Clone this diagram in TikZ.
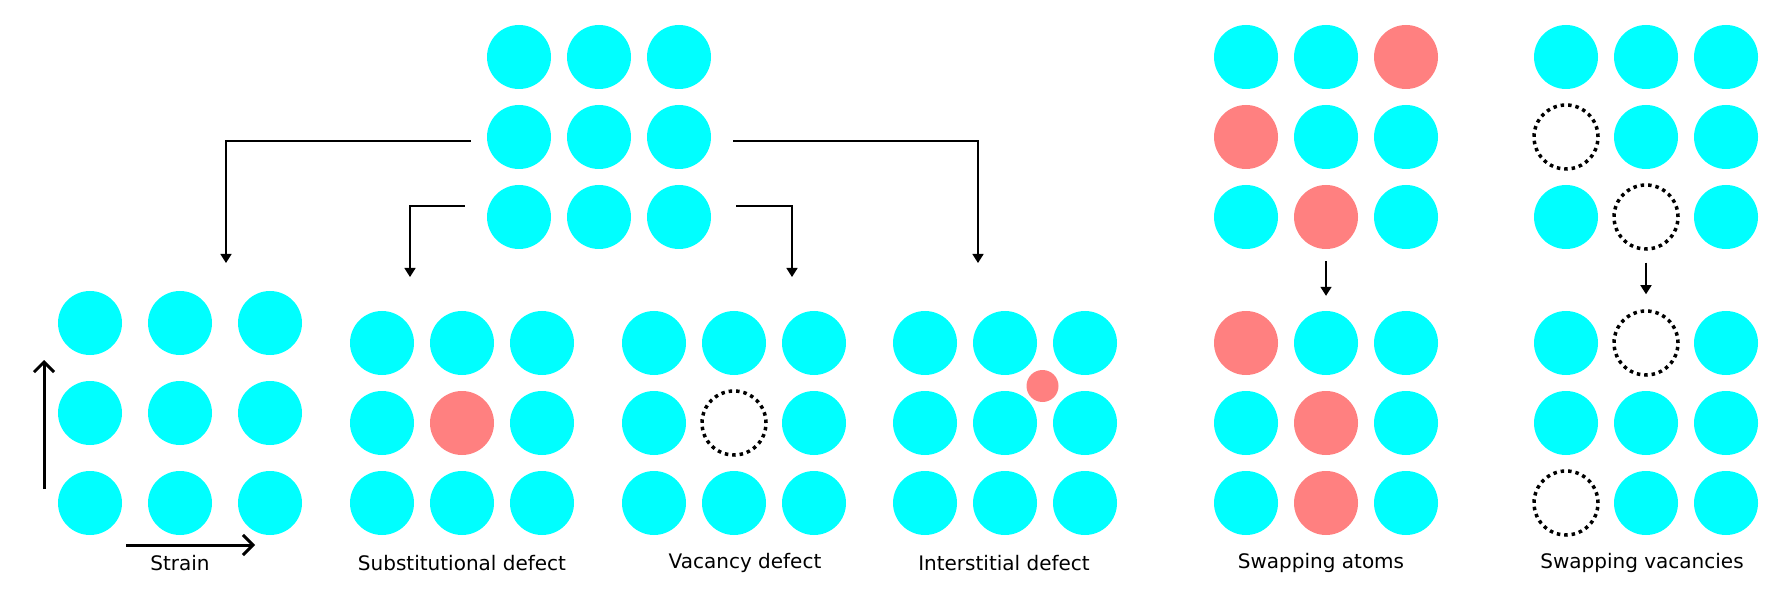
\documentclass[tikz,border=0pt]{standalone}
\usepackage{fontspec}
\setmainfont{DejaVu Sans}
\usetikzlibrary{arrows.meta, positioning}

\definecolor{atomcyan}{HTML}{00FFFF}
\definecolor{dopantred}{HTML}{FF8080}

\begin{document}
\begin{tikzpicture}[
    x=1pt, y=-1pt,
    atom/.style={circle, fill=atomcyan, minimum size=64pt, inner sep=0pt},
    dopant/.style={atom, fill=dopantred},
    vacancy/.style={circle, draw=black, line width=3.5pt, dash pattern=on 3.5pt off 3.947pt, minimum size=64pt, inner sep=0pt},
    lbl/.style={anchor=base, font=\fontsize{20}{24}\selectfont},
    arrow/.style={line width=1.5pt, -{Triangle[length=9pt, width=11pt]}},
    strainarrow/.style={line width=3pt, -{Straight Barb[length=10pt, width=20pt]}}
]
    \useasboundingbox (0,0) rectangle (1790,601);

    % perfect lattice
    \foreach \s [count=\i from 0] in {atom,atom,atom,atom,atom,atom,atom,atom,atom}
        \node[\s] (top\i) at ({519+80*mod(\i,3)},{57+80*div(\i,3)}) {};

    % strained lattice
    \foreach \s [count=\i from 0] in {atom,atom,atom,atom,atom,atom,atom,atom,atom}
        \node[\s] (str\i) at ({90+90*mod(\i,3)},{323+90*div(\i,3)}) {};

    % substitutional, vacancy, interstitial
    \foreach \s [count=\i from 0] in {atom,atom,atom,atom,dopant,atom,atom,atom,atom}
        \node[\s] (sub\i) at ({382+80*mod(\i,3)},{343+80*div(\i,3)}) {};
    \foreach \s [count=\i from 0] in {atom,atom,atom,atom,vacancy,atom,atom,atom,atom}
        \node[\s] (vac\i) at ({654+80*mod(\i,3)},{343+80*div(\i,3)}) {};
    \foreach \s [count=\i from 0] in {atom,atom,atom,atom,atom,atom,atom,atom,atom}
        \node[\s] (int\i) at ({925+80*mod(\i,3)},{343+80*div(\i,3)}) {};
    \node[dopant, minimum size=32pt] (intx) at (1042.5,386) {};

    % swapping atoms
    \foreach \s [count=\i from 0] in {atom,atom,dopant,dopant,atom,atom,atom,dopant,atom}
        \node[\s] (swa\i) at ({1246+80*mod(\i,3)},{57+80*div(\i,3)}) {};
    \foreach \s [count=\i from 0] in {dopant,atom,atom,atom,dopant,atom,atom,dopant,atom}
        \node[\s] (swb\i) at ({1246+80*mod(\i,3)},{343+80*div(\i,3)}) {};

    % swapping vacancies
    \foreach \s [count=\i from 0] in {atom,atom,atom,vacancy,atom,atom,atom,vacancy,atom}
        \node[\s] (svt\i) at ({1566+80*mod(\i,3)},{57+80*div(\i,3)}) {};
    \foreach \s [count=\i from 0] in {atom,vacancy,atom,atom,atom,atom,vacancy,atom,atom}
        \node[\s] (svb\i) at ({1566+80*mod(\i,3)},{343+80*div(\i,3)}) {};

    % labels
    \node[lbl] (strainlbl) at (180,570) {Strain};
    \node[lbl] (sublbl) at (462,570) {Substitutional defect};
    \node[lbl] (vaclbl) at (745,568) {Vacancy defect};
    \node[lbl] (intlbl) at (1004,570) {Interstitial defect};
    \node[lbl] (swalbl) at (1321,568) {Swapping atoms};
    \node[lbl] (svlbl) at (1642,568) {Swapping vacancies};

    % arrow targets
    \coordinate (strin) at (226,263);
    \coordinate (subin) at (410,277);
    \coordinate (vacin) at (792,277);
    \coordinate (intin) at (978,263);
    \coordinate (sv0) at (44,489);
    \coordinate (sv1) at (44,360);
    \coordinate (sh0) at (126,545);
    \coordinate (sh1) at (255,545);

    \draw[arrow] ([xshift=-16pt, yshift=-4pt]top3.west) -| (strin);
    \draw[arrow] ([xshift=-22pt, yshift=11pt]top6.west) -| (subin);
    \draw[arrow] ([xshift=25pt, yshift=11pt]top8.east) -| (vacin);
    \draw[arrow] ([xshift=22pt, yshift=-4pt]top5.east) -| (intin);

    \draw[arrow, shorten <=12pt, shorten >=15pt] (swa7) -- (swb1);
    \draw[arrow, shorten <=12pt, shorten >=15pt] (svt7) -- (svb1);

    \draw[strainarrow] (sv0) -- (sv1);
    \draw[strainarrow] (sh0) -- (sh1);

\end{tikzpicture}
\end{document}
